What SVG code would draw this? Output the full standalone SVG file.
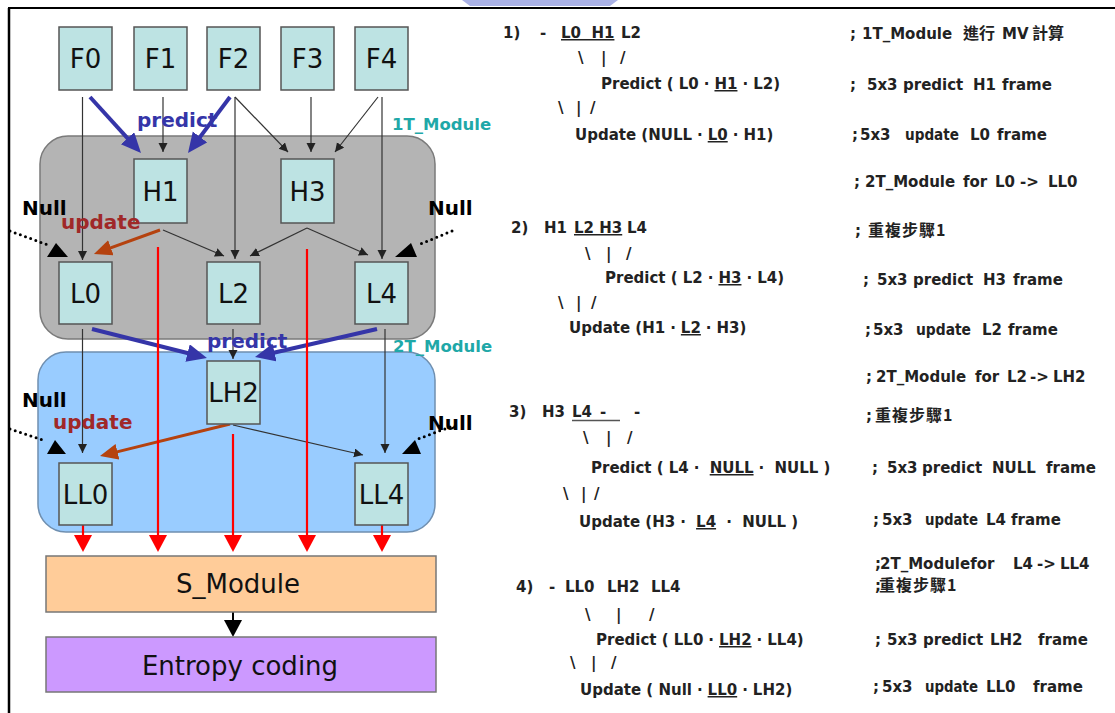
<svg xmlns="http://www.w3.org/2000/svg" width="1115" height="713" viewBox="0 0 1115 713" xml:space="preserve">
<style>
.box{fill:#bde3e3;stroke:#555;stroke-width:1.5}
.nl{font-family:"DejaVu Sans",sans-serif;font-size:26px;fill:#111;text-anchor:middle}
.thin{stroke:#333;stroke-width:1.2;fill:none;marker-end:url(#ah)}
.blue{stroke:#3535a8;stroke-width:4;fill:none;marker-end:url(#ahb)}
.upd{stroke:#b5420f;stroke-width:3;fill:none;marker-end:url(#aho)}
.red{stroke:#ff0000;stroke-width:2.2;fill:none;marker-end:url(#ahr)}
.dot{stroke:#000;stroke-width:3;stroke-dasharray:0 5.5;stroke-linecap:round;fill:none}
.lbl{font-family:"DejaVu Sans",sans-serif;font-weight:bold}
.t{font-family:"DejaVu Sans","Noto Sans CJK TC",sans-serif;font-weight:bold;font-size:15px;fill:#222;white-space:pre}
.cjk{font-family:"Noto Sans CJK TC",sans-serif;font-size:16px}
.u{text-decoration:underline}
</style>
<defs>
<marker id="ah" markerUnits="userSpaceOnUse" markerWidth="10" markerHeight="10" refX="9" refY="4.5" orient="auto"><path d="M0,0 L9,4.5 L0,9 Z" fill="#222"/></marker>
<marker id="ahb" markerUnits="userSpaceOnUse" markerWidth="22" markerHeight="20" refX="12" refY="9" orient="auto"><path d="M0,0 L20,9 L0,18 Z" fill="#3535a8"/></marker>
<marker id="aho" markerUnits="userSpaceOnUse" markerWidth="20" markerHeight="18" refX="12" refY="8" orient="auto"><path d="M0,0 L18,8 L0,16 Z" fill="#b5420f"/></marker>
<marker id="ahr" markerUnits="userSpaceOnUse" markerWidth="20" markerHeight="20" refX="12" refY="9" orient="auto"><path d="M0,0 L17,9 L0,18 Z" fill="#ff0000"/></marker>
<marker id="ahk" markerUnits="userSpaceOnUse" markerWidth="20" markerHeight="20" refX="12" refY="9" orient="auto"><path d="M0,0 L17,9 L0,18 Z" fill="#000"/></marker>
</defs>
<rect width="1115" height="713" fill="#fff"/>
<path d="M462,0 L618,0 L610,6 L470,6 Z" fill="#aab2e6"/>
<line x1="8" y1="8" x2="1115" y2="8" stroke="#000" stroke-width="2"/>
<line x1="9" y1="8" x2="9" y2="713" stroke="#000" stroke-width="2.5"/>

<g id="module1T"><rect x="40" y="136" width="395" height="203" rx="28" fill="#b4b4b4" stroke="#7a7a7a" stroke-width="1.5"/></g>
<g id="module2T"><rect x="38" y="352" width="397" height="180" rx="28" fill="#99ccff" stroke="#6f8fb0" stroke-width="1.5"/></g>

<g id="connectors">
<line class="thin" x1="82.5" y1="97" x2="82.5" y2="260"/>
<line class="thin" x1="163" y1="97" x2="163" y2="152"/>
<line class="thin" x1="235" y1="97" x2="288" y2="152"/>
<line class="thin" x1="235" y1="97" x2="235" y2="259"/>
<line class="thin" x1="311" y1="97" x2="311" y2="152"/>
<line class="thin" x1="378" y1="97" x2="335" y2="152"/>
<line class="thin" x1="382" y1="97" x2="382" y2="259"/>
<line class="thin" x1="163" y1="230" x2="224" y2="256"/>
<line class="thin" x1="307" y1="228" x2="250" y2="256"/>
<line class="thin" x1="307" y1="228" x2="368" y2="255"/>
<line class="thin" x1="233" y1="329" x2="233" y2="359"/>
<line class="thin" x1="82.5" y1="329" x2="82.5" y2="453"/>
<line class="thin" x1="385" y1="329" x2="385" y2="453"/>
<line class="thin" x1="233" y1="425" x2="363" y2="455"/>
<line class="blue" x1="90" y1="97" x2="135.6" y2="147.1"/>
<line class="blue" x1="230" y1="97" x2="192.8" y2="146.6"/>
<line class="blue" x1="92" y1="329" x2="199.2" y2="356"/>
<line class="blue" x1="377" y1="329" x2="262.8" y2="355.2"/>
<line class="upd" x1="160" y1="230" x2="99.6" y2="251.9"/>
<line class="upd" x1="230" y1="424" x2="105.8" y2="454.6"/>
<line class="dot" x1="10" y1="231" x2="48" y2="245"/>
<polygon points="47,257 68,257 56,243" fill="#000"/>
<line class="dot" x1="452" y1="231" x2="418" y2="245"/>
<polygon points="395,257 417,257 411,243" fill="#000"/>
<line class="dot" x1="10" y1="429" x2="46" y2="441"/>
<polygon points="47,454 66,454 55,440" fill="#000"/>
<line class="dot" x1="450" y1="427" x2="418" y2="439"/>
<polygon points="402,454 421,454 415,440" fill="#000"/>
<line class="red" x1="158" y1="247" x2="158" y2="547"/>
<line class="red" x1="307" y1="249" x2="307" y2="547"/>
<line class="red" x1="233" y1="434" x2="233" y2="547"/>
<line class="red" x1="83" y1="525" x2="83" y2="547"/>
<line class="red" x1="382" y1="525" x2="382" y2="547"/>
<line x1="233" y1="612" x2="233" y2="632" stroke="#000" stroke-width="2" marker-end="url(#ahk)"/>
</g>

<g id="F0"><rect class="box" x="59" y="27" width="53" height="63"/><text class="nl" x="85.5" y="68">F0</text></g>
<g id="F1"><rect class="box" x="134" y="27" width="53" height="63"/><text class="nl" x="160.5" y="68">F1</text></g>
<g id="F2"><rect class="box" x="207" y="27" width="53" height="63"/><text class="nl" x="233.5" y="68">F2</text></g>
<g id="F3"><rect class="box" x="281" y="27" width="53" height="63"/><text class="nl" x="307.5" y="68">F3</text></g>
<g id="F4"><rect class="box" x="355" y="27" width="53" height="63"/><text class="nl" x="381.5" y="68">F4</text></g>
<g id="H1"><rect class="box" x="134" y="159" width="53" height="64"/><text class="nl" x="160.5" y="201">H1</text></g>
<g id="H3"><rect class="box" x="281" y="159" width="53" height="64"/><text class="nl" x="307.5" y="201">H3</text></g>
<g id="L0"><rect class="box" x="59" y="262" width="53" height="62"/><text class="nl" x="85.5" y="303">L0</text></g>
<g id="L2"><rect class="box" x="207" y="262" width="53" height="62"/><text class="nl" x="233.5" y="303">L2</text></g>
<g id="L4"><rect class="box" x="355" y="262" width="53" height="62"/><text class="nl" x="381.5" y="303">L4</text></g>
<g id="LH2"><rect class="box" x="207" y="361" width="53" height="63"/><text class="nl" x="233.5" y="402">LH2</text></g>
<g id="LL0"><rect class="box" x="59" y="463" width="53" height="62"/><text class="nl" x="85.5" y="504">LL0</text></g>
<g id="LL4"><rect class="box" x="355" y="463" width="53" height="62"/><text class="nl" x="381.5" y="504">LL4</text></g>
<g id="S_Module"><rect x="46" y="556" width="390" height="56" fill="#ffcc99" stroke="#777" stroke-width="1.5"/><text class="nl" x="238" y="593" font-size="25">S_Module</text></g>
<g id="Entropy"><rect x="46" y="637" width="390" height="55" fill="#cc99ff" stroke="#777" stroke-width="1.5"/><text class="nl" x="240" y="675" font-size="25">Entropy coding</text></g>

<g id="labels">
<text class="lbl" x="137" y="127" font-size="20" fill="#3535a8">predict</text>
<text class="lbl" x="207" y="348" font-size="20" fill="#3535a8">predict</text>
<text class="lbl" x="392" y="130" font-size="16.5" fill="#1fa8a8">1T_Module</text>
<text class="lbl" x="393" y="352" font-size="16.5" fill="#1fa8a8">2T_Module</text>
<text class="lbl" x="22" y="215" font-size="20">Null</text>
<text class="lbl" x="428" y="215" font-size="20">Null</text>
<text class="lbl" x="22" y="407" font-size="20">Null</text>
<text class="lbl" x="428" y="430" font-size="20">Null</text>
<text class="lbl" x="61" y="229" font-size="20" fill="#a02828">update</text>
<text class="lbl" x="53" y="429" font-size="20" fill="#a02828">update</text>
</g>

<g id="steps">
<text class="t" y="38"><tspan x="503">1)</tspan><tspan x="540">-</tspan><tspan x="561" class="u">L0  H1</tspan><tspan x="621">L2</tspan></text>
<text class="t" y="63"><tspan x="578">\</tspan><tspan x="601">|</tspan><tspan x="620">/</tspan></text>
<text class="t" x="601" y="89">Predict ( L0 ‧ <tspan class="u">H1</tspan> ‧ L2)</text>
<text class="t" y="113"><tspan x="558">\</tspan><tspan x="576">|</tspan><tspan x="590">/</tspan></text>
<text class="t" x="575" y="140">Update (NULL ‧ <tspan class="u">L0</tspan> ‧ H1)</text>

<text class="t" y="233"><tspan x="511">2)</tspan><tspan x="544">H1</tspan><tspan x="574" class="u">L2 H3</tspan><tspan x="627">L4</tspan></text>
<text class="t" y="259"><tspan x="585">\</tspan><tspan x="606">|</tspan><tspan x="626">/</tspan></text>
<text class="t" x="605" y="283">Predict ( L2 ‧ <tspan class="u">H3</tspan> ‧ L4)</text>
<text class="t" y="308"><tspan x="558">\</tspan><tspan x="576">|</tspan><tspan x="591">/</tspan></text>
<text class="t" x="569" y="333">Update (H1 ‧ <tspan class="u">L2</tspan> ‧ H3)</text>

<text class="t" y="417"><tspan x="509">3)</tspan><tspan x="542">H3</tspan><tspan x="572">L4</tspan><tspan x="600">-</tspan><tspan x="634">-</tspan></text>
<line x1="572" y1="420.5" x2="620" y2="420.5" stroke="#555" stroke-width="1.5"/>
<text class="t" y="443"><tspan x="583">\</tspan><tspan x="606">|</tspan><tspan x="627">/</tspan></text>
<text class="t" x="591" y="473">Predict ( L4 ‧  <tspan class="u">NULL</tspan> ‧  NULL )</text>
<text class="t" y="499"><tspan x="563">\</tspan><tspan x="581">|</tspan><tspan x="594">/</tspan></text>
<text class="t" x="579" y="527">Update (H3 ‧  <tspan class="u">L4</tspan>  ‧  NULL )</text>

<text class="t" y="592"><tspan x="516">4)</tspan><tspan x="549">-</tspan><tspan x="565">LL0</tspan><tspan x="607">LH2</tspan><tspan x="651">LL4</tspan></text>
<text class="t" y="620"><tspan x="585">\</tspan><tspan x="616">|</tspan><tspan x="649">/</tspan></text>
<text class="t" x="596" y="645">Predict ( LL0 ‧ <tspan class="u">LH2</tspan> ‧ LL4)</text>
<text class="t" y="668"><tspan x="570">\</tspan><tspan x="591">|</tspan><tspan x="611">/</tspan></text>
<text class="t" x="580" y="695">Update ( Null ‧ <tspan class="u">LL0</tspan> ‧ LH2)</text>
</g>

<g id="comments">
<text class="t" y="39"><tspan x="850">;</tspan><tspan x="862">1T_Module</tspan><tspan x="963" class="cjk">進行</tspan><tspan x="1002">MV</tspan><tspan x="1032" class="cjk">計算</tspan></text>
<text class="t" y="90"><tspan x="850">;</tspan><tspan x="867">5x3</tspan><tspan x="903">predict</tspan><tspan x="973">H1</tspan><tspan x="1002">frame</tspan></text>
<text class="t" y="140"><tspan x="852">;</tspan><tspan x="860">5x3</tspan><tspan x="905" textLength="54" lengthAdjust="spacingAndGlyphs">update</tspan><tspan x="970">L0</tspan><tspan x="997">frame</tspan></text>
<text class="t" y="187"><tspan x="854">;</tspan><tspan x="865">2T_Module</tspan><tspan x="963">for</tspan><tspan x="995">L0</tspan><tspan x="1020">-&gt;</tspan><tspan x="1048">LL0</tspan></text>
<text class="t" y="236"><tspan x="855">;</tspan><tspan x="868" class="cjk" letter-spacing="1">重複步驟1</tspan></text>
<text class="t" y="285"><tspan x="863">;</tspan><tspan x="877">5x3</tspan><tspan x="913">predict</tspan><tspan x="983">H3</tspan><tspan x="1013">frame</tspan></text>
<text class="t" y="335"><tspan x="865">;</tspan><tspan x="873">5x3</tspan><tspan x="916" textLength="55" lengthAdjust="spacingAndGlyphs">update</tspan><tspan x="982">L2</tspan><tspan x="1008">frame</tspan></text>
<text class="t" y="382"><tspan x="866">;</tspan><tspan x="876">2T_Module</tspan><tspan x="975">for</tspan><tspan x="1007">L2</tspan><tspan x="1030">-&gt;</tspan><tspan x="1053">LH2</tspan></text>
<text class="t" y="421"><tspan x="866">;</tspan><tspan x="875" class="cjk" letter-spacing="1">重複步驟1</tspan></text>
<text class="t" y="473"><tspan x="872">;</tspan><tspan x="887">5x3</tspan><tspan x="922">predict</tspan><tspan x="992">NULL</tspan><tspan x="1046">frame</tspan></text>
<text class="t" y="525"><tspan x="873">;</tspan><tspan x="882">5x3</tspan><tspan x="925" textLength="53" lengthAdjust="spacingAndGlyphs">update</tspan><tspan x="986">L4</tspan><tspan x="1011">frame</tspan></text>
<text class="t" y="569"><tspan x="875">;</tspan><tspan x="880">2T_Modulefor</tspan><tspan x="1013">L4</tspan><tspan x="1037">-&gt;</tspan><tspan x="1060">LL4</tspan></text>
<text class="t" y="591"><tspan x="875">;</tspan><tspan x="879" class="cjk" letter-spacing="1">重複步驟1</tspan></text>
<text class="t" y="645"><tspan x="875">;</tspan><tspan x="887">5x3</tspan><tspan x="923">predict</tspan><tspan x="990">LH2</tspan><tspan x="1038">frame</tspan></text>
<text class="t" y="692"><tspan x="873">;</tspan><tspan x="882">5x3</tspan><tspan x="925" textLength="53" lengthAdjust="spacingAndGlyphs">update</tspan><tspan x="986">LL0</tspan><tspan x="1033">frame</tspan></text>
</g>
</svg>
